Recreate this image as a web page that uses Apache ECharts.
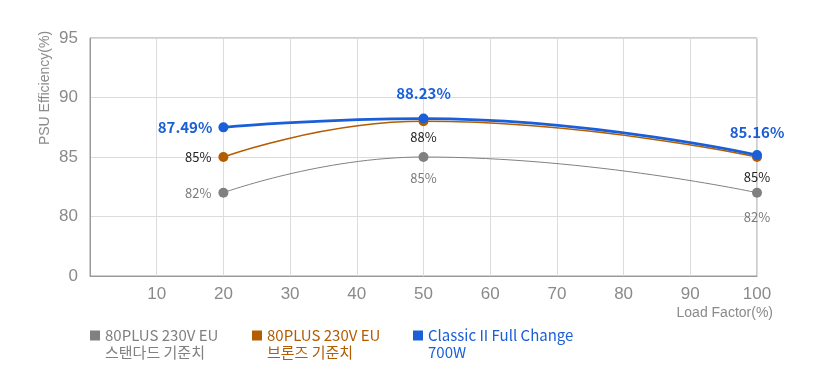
<!DOCTYPE html>
<html>
<head>
<meta charset="utf-8">
<script src="https://cdn.jsdelivr.net/npm/echarts@6/dist/echarts.min.js"></script>
<style>html,body{margin:0;padding:0;background:#fff}#c{width:821px;height:386px}</style>
</head>
<body>
<div id="c"></div>
<script>
const loadFactor = [20, 50, 100];
const standard = [82, 85, 82];
const bronze = [85, 88, 85];
const classic = [87.49, 88.23, 85.16];
const seriesNames = ['80PLUS 230V EU\n스탠다드 기준치', '80PLUS 230V EU\n브론즈 기준치', 'Classic II Full Change\n700W'];
const xTicks = [0, 10, 20, 30, 40, 50, 60, 70, 80, 90, 100];
const yTickLabels = { 75: '0', 80: '80', 85: '85', 90: '90', 95: '95' };

const C_GRAY = '#808080', C_ORANGE = '#b35c00', C_BLUE = '#1a5fd8';
const KR = '"Noto Sans CJK KR", "Noto Sans", sans-serif';
const NARROW = '"Liberation Sans Narrow", "Liberation Sans", sans-serif';

function mk(vals, name, color, width, labelPos, labelDist, labelStyle, fmt) {
  return {
    name: name, type: 'line', smooth: true,
    symbol: 'circle', symbolSize: 10,
    lineStyle: { color: color, width: width },
    itemStyle: { color: color },
    data: vals.map((v, i) => ({
      value: [loadFactor[i], v],
      label: { show: true, position: labelPos[i], distance: labelDist[i],
        formatter: () => fmt(v) + '%', ...labelStyle }
    })),
    z: width * 2
  };
}

const chart = echarts.init(document.getElementById('c'), null, { renderer: 'canvas' });
const legendBase = (name, color, left) => ({
  data: [{ name: name, textStyle: { color: color } }],
  left: left, top: 310, padding: 0, orient: 'horizontal',
  icon: 'rect', itemWidth: 10, itemHeight: 10, itemGap: 5,
  formatter: n => '\n' + n,
  textStyle: { fontFamily: KR, fontSize: 15, lineHeight: 17, padding: [0, 0, 0, 0] }
});
chart.setOption({
  animation: false,
  grid: { left: 90, right: 64, top: 38, bottom: 110, show: true, borderColor: '#9a9a9a', borderWidth: 1 },
  xAxis: {
    type: 'value', min: 0, max: 100, interval: 10,
    axisLine: { show: true, lineStyle: { color: '#9a9a9a' } },
    axisTick: { show: false },
    splitLine: { show: true, lineStyle: { color: '#dcdcdc' } },
    axisLabel: { color: '#8a8a8a', fontFamily: NARROW, fontSize: 17, margin: 10,
      formatter: v => (xTicks.indexOf(v) > 0 ? String(v) : '') }
  },
  yAxis: {
    type: 'value', min: 75, max: 95, interval: 5,
    axisLine: { show: true, lineStyle: { color: '#9a9a9a' } },
    axisTick: { show: false },
    splitLine: { show: true, lineStyle: { color: '#dcdcdc' } },
    axisLabel: { color: '#8a8a8a', fontFamily: NARROW, fontSize: 17, margin: 12,
      formatter: v => yTickLabels[v] || '' }
  },
  legend: [
    legendBase(seriesNames[0], C_GRAY, 90),
    legendBase(seriesNames[1], C_ORANGE, 252),
    legendBase(seriesNames[2], C_BLUE, 413)
  ],
  graphic: [
    { type: 'text', x: 45, y: 88, rotation: Math.PI / 2,
      style: { text: 'PSU Efficiency(%)', fill: '#8a8a8a', font: '14px ' + NARROW, textAlign: 'center', textVerticalAlign: 'middle' } },
    { type: 'text', right: 48, top: 306,
      style: { text: 'Load Factor(%)', fill: '#8a8a8a', font: '14px ' + NARROW } }
  ],
  series: [
    mk(standard, seriesNames[0], C_GRAY, 1, ['left', 'bottom', 'bottom'], [7, 10, 13],
      { color: '#7a7a7a', fontFamily: KR, fontSize: 13 }, v => String(v)),
    mk(bronze, seriesNames[1], C_ORANGE, 1.5, ['left', 'bottom', 'bottom'], [7, 4, 9],
      { color: '#222', fontFamily: KR, fontSize: 13 }, v => String(v)),
    mk(classic, seriesNames[2], C_BLUE, 2.8, ['left', 'top', 'top'], [6, 13, 10],
      { color: C_BLUE, fontFamily: KR, fontSize: 15, fontWeight: 'bold' }, v => v.toFixed(2))
  ]
});
</script>
</body>
</html>
